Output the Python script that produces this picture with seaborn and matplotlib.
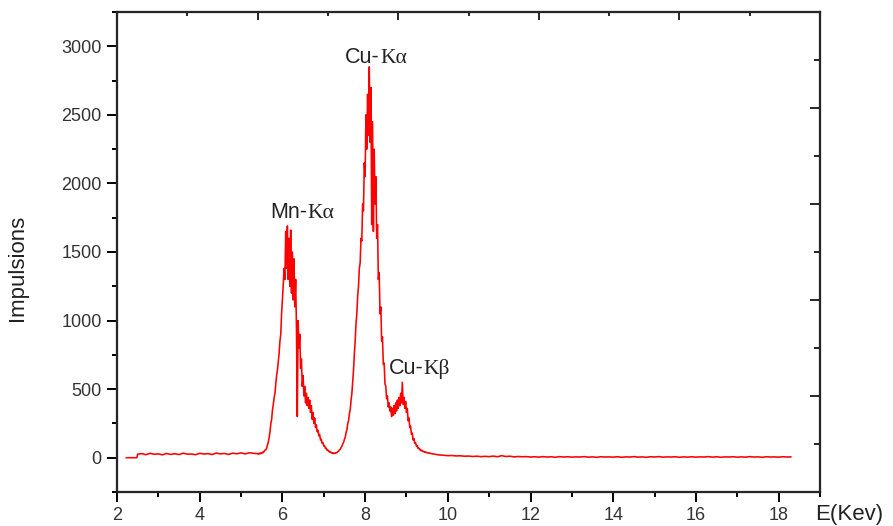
import numpy as np
import pandas as pd
import matplotlib
matplotlib.use("Agg")
import matplotlib.pyplot as plt
import seaborn as sns
from matplotlib.ticker import MultipleLocator, NullFormatter

# ---------------- data ----------------
low_energy = [2.22, 2.48, 2.50] + [round(2.6 + 0.1 * i, 2) for i in range(28)]
low_counts = [0, 0, 26,
              30, 22, 32, 25, 28, 21, 31, 24, 29, 23,
              33, 26, 27, 22, 32, 27, 30, 23, 34, 28,
              31, 24, 33, 29, 35, 28, 36, 32]

peak_energy = [round(5.40 + 0.02 * i, 2) for i in range(221)]
peak_counts = [
    30, 26, 33, 28, 36, 32, 40, 38, 48, 55,
    58, 70, 95, 115, 150, 190, 250, 280, 350, 390,
    440, 470, 540, 600, 640, 700, 760, 850, 900, 1050,
    1150, 1260, 1380, 1300, 1650, 1380, 1690, 1300, 1600, 1250,
    1660, 1200, 1500, 1150, 1450, 1100, 1300, 950, 300, 1000,
    800, 900, 650, 720, 520, 600, 450, 520, 400, 470,
    380, 440, 360, 420, 330, 380, 280, 330, 250, 290,
    220, 240, 190, 200, 160, 170, 130, 135, 105, 110,
    85, 88, 68, 70, 55, 55, 45, 46, 38, 40,
    33, 36, 30, 34, 32, 36, 38, 44, 48, 58,
    62, 75, 85, 100, 112, 135, 150, 185, 205, 250,
    270, 320, 350, 420, 470, 560, 640, 760, 850, 980,
    1050, 1180, 1250, 1380, 1420, 1600, 1580, 1850, 1800, 2150,
    2050, 2500, 2250, 2650, 2350, 2850, 2300, 2700, 1700, 2450,
    1650, 2250, 1850, 2050, 1600, 1700, 1300, 1350, 1050, 1100,
    850, 880, 680, 690, 540, 520, 430, 450, 370, 400,
    340, 370, 300, 360, 310, 380, 320, 400, 340, 420,
    360, 440, 380, 470, 400, 550, 390, 440, 360, 410,
    330, 360, 270, 290, 220, 230, 170, 180, 130, 140,
    105, 110, 85, 88, 68, 70, 58, 60, 50, 52,
    45, 46, 40, 42, 37, 38, 34, 35, 32, 33,
    29, 30, 27, 28, 25, 25, 23, 23, 21, 21,
    20,
]

tail_energy = [round(9.9 + 0.1 * i, 2) for i in range(85)]
tail_counts = [
    18, 15, 16, 13, 14, 11, 12, 9, 11, 8,
    10, 8, 12, 7, 15, 9, 11, 6, 9, 7,
    8, 5, 7, 4, 8, 5, 7, 3, 8, 5,
    7, 4, 6, 5, 8, 4, 6, 3, 7, 5,
    6, 4, 7, 3, 6, 5, 8, 4, 6, 3,
    7, 5, 8, 4, 6, 5, 7, 3, 6, 4,
    7, 4, 6, 5, 8, 4, 7, 3, 6, 5,
    7, 4, 6, 4, 8, 5, 6, 3, 7, 5,
    6, 4, 7, 5, 6,
]

peak_labels = ["Mn-", "Cu-", "Cu-"]
peak_greek = ["K\u03b1", "K\u03b1", "K\u03b2"]
label_x = [6.60, 8.36, 9.42]
label_y = [1748, 2877, 612]

x_ticks = [2, 4, 6, 8, 10, 12, 14, 16, 18]
y_ticks = [0, 500, 1000, 1500, 2000, 2500, 3000]

df = pd.DataFrame({
    "E": low_energy + peak_energy + tail_energy,
    "I": low_counts + peak_counts + tail_counts,
})

# ---------------- figure ----------------
sns.set_style("ticks")
plt.rcParams["font.family"] = ["Liberation Sans", "DejaVu Sans"]

fig = plt.figure(figsize=(8.93, 5.26), dpi=100)
ax = fig.add_axes([117 / 893, 1 - 492 / 526, 703 / 893, 480 / 526])

sns.lineplot(data=df, x="E", y="I", estimator=None, sort=False,
             color="#ff0000", lw=1.15, ax=ax)

ax.set_xlim(2, 19)
ax.set_ylim(-250, 3250)
ax.set_xticks(x_ticks)
ax.set_yticks(y_ticks)
ax.xaxis.set_minor_locator(MultipleLocator(1))
ax.yaxis.set_minor_locator(MultipleLocator(250))
ax.set_xlabel("")
ax.set_ylabel("")

for s in ax.spines.values():
    s.set_linewidth(1.5)
    s.set_color("black")

ax.tick_params(axis="both", which="major", direction="out", length=7,
               width=1.4, color="black", labelsize=13, labelcolor="#333333")
ax.tick_params(axis="both", which="minor", direction="out", length=3.6,
               width=1.4, color="black")
ax.tick_params(axis="x", which="major", pad=4)
ax.tick_params(axis="y", which="major", pad=4)
ax.tick_params(top=False, right=False, which="both")

# independent secondary scales on the right and top (inward ticks)
axr = ax.twinx()
axr.set_ylim(0, 5)
axr.yaxis.set_major_locator(MultipleLocator(1))
axr.yaxis.set_minor_locator(MultipleLocator(0.5))
axr.yaxis.set_major_formatter(NullFormatter())
axr.tick_params(axis="y", which="major", direction="in", length=7, width=1.4)
axr.tick_params(axis="y", which="minor", direction="in", length=4, width=1.4)

axt = ax.twiny()
axt.set_xlim(0, 5)
axt.xaxis.set_major_locator(MultipleLocator(1))
axt.xaxis.set_minor_locator(MultipleLocator(0.5))
axt.xaxis.set_major_formatter(NullFormatter())
axt.tick_params(axis="x", which="major", direction="in", length=6, width=1.4)
axt.tick_params(axis="x", which="minor", direction="in", length=3, width=1.4)
for a in (axr, axt):
    for s in a.spines.values():
        s.set_linewidth(1.5)

# peak labels
for lab, gr, lx, ly in zip(peak_labels, peak_greek, label_x, label_y):
    ax.text(lx, ly, lab, ha="right", va="baseline", fontsize=15.5,
            family=["Liberation Sans", "DejaVu Sans"], color="#222222")
    ax.text(lx, ly, gr, ha="left", va="baseline", fontsize=15.5,
            family=["Liberation Serif", "DejaVu Serif"], color="#222222")

fig.text(18 / 893, 1 - 268 / 526, "Impulsions", rotation=90, ha="center",
         va="center", fontsize=16, color="#222222")
fig.text(815 / 893, 1 - 520 / 526, "E(Kev)", ha="left", va="baseline",
         fontsize=16, color="#222222")

fig.savefig("out.png", dpi=100)
